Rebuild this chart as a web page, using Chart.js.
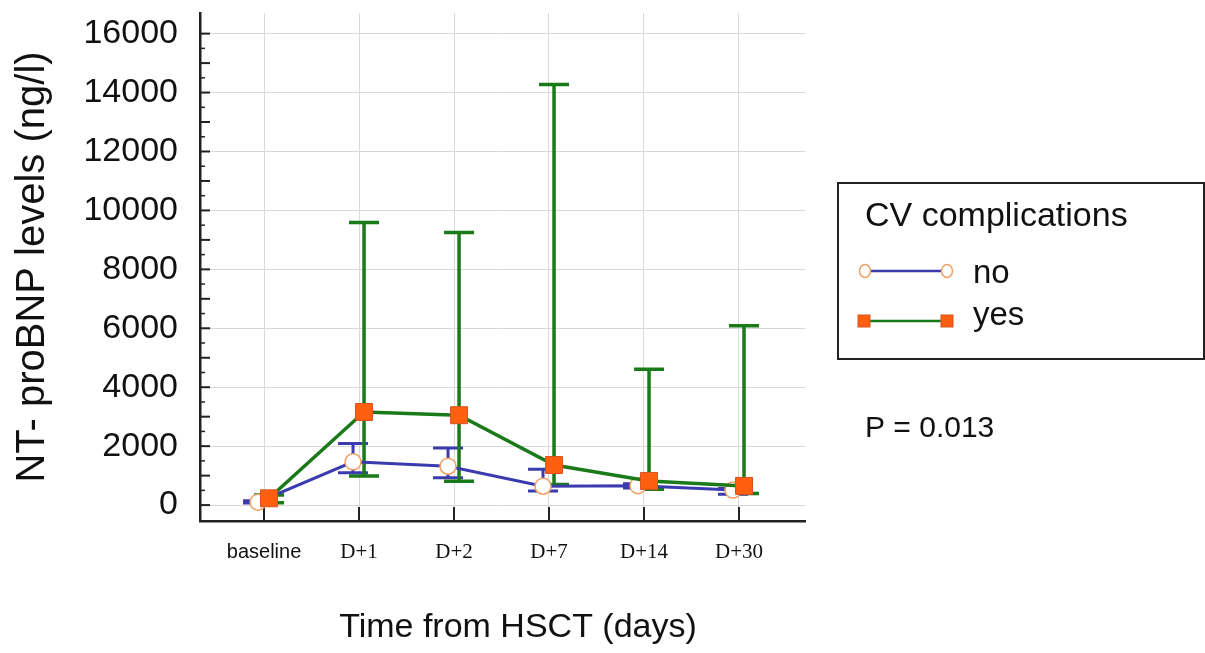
<!DOCTYPE html>
<html><head><meta charset="utf-8">
<script src="https://cdn.jsdelivr.net/npm/chart.js@4.4.1/dist/chart.umd.min.js"></script>
<style>html,body{margin:0;padding:0;background:#fff;}</style>
</head><body>
<canvas id="c" width="1205" height="653"></canvas>
<script>
// ---- data ----
const categories = ['baseline', 'D+1', 'D+2', 'D+7', 'D+14', 'D+30'];
const noMean  = [100, 1470, 1320, 640, 660, 510];
const noLow   = [70, 1100, 930, 480, 580, 370];
const noHigh  = [150, 2090, 1940, 1220, 720, 560];
const yesMean = [230, 3160, 3050, 1360, 820, 650];
const yesLow  = [80, 990, 810, 700, 540, 390];
const yesHigh = [340, 9590, 9250, 14270, 4610, 6090];
const yTickValues = [0, 1000, 2000, 3000, 4000, 5000, 6000, 7000, 8000, 9000, 10000, 11000, 12000, 13000, 14000, 15000, 16000];
const yMinorTicks = [500, 1500, 2500, 3500, 4500, 5500, 6500, 7500, 8500, 9500, 10500, 11500, 12500, 13500, 14500, 15500];
const legendTitle = 'CV complications';
const seriesNames = ['no', 'yes'];
const pValueText = 'P = 0.013';
const yTitle = 'NT- proBNP levels (ng/l)';
const xTitle = 'Time from HSCT (days)';

// ---- styles ----
const NO_OFF = -0.063, YES_OFF = 0.053;
const BLUE = '#3b3bb0', GREEN = '#1a7a1a', ORANGE = '#ff5f0f', ORANGE_EDGE = '#d9531e', CIRCLE_EDGE = '#f2a066';
const SANS = "'Liberation Sans', Arial, sans-serif";
const SERIF = "'Liberation Serif', 'Times New Roman', serif";

function drawErr(chart, low, high, off, color, lw, capW) {
  const {ctx, scales: {x, y}} = chart;
  ctx.save();
  ctx.strokeStyle = color; ctx.lineWidth = lw; ctx.lineCap = 'butt';
  for (let i = 0; i < low.length; i++) {
    const px = x.getPixelForValue(i + off);
    const pl = y.getPixelForValue(low[i]);
    const ph = y.getPixelForValue(high[i]);
    ctx.beginPath();
    ctx.moveTo(px, pl); ctx.lineTo(px, ph);
    ctx.moveTo(px - capW / 2, pl); ctx.lineTo(px + capW / 2, pl);
    ctx.moveTo(px - capW / 2, ph); ctx.lineTo(px + capW / 2, ph);
    ctx.stroke();
  }
  ctx.restore();
}

const decor = {
  id: 'decor',
  beforeDatasetsDraw(chart) {
    const {ctx, chartArea, scales: {x, y}} = chart;
    ctx.save();
    ctx.strokeStyle = '#222';
    yTickValues.forEach(v => {
      const py = y.getPixelForValue(v);
      ctx.lineWidth = 2; ctx.beginPath(); ctx.moveTo(chartArea.left, py); ctx.lineTo(chartArea.left + 10, py); ctx.stroke();
    });
    yMinorTicks.forEach(v => {
      const py = y.getPixelForValue(v);
      ctx.lineWidth = 1.5; ctx.beginPath(); ctx.moveTo(chartArea.left, py); ctx.lineTo(chartArea.left + 5, py); ctx.stroke();
    });
    categories.forEach((c, i) => {
      const px = x.getPixelForValue(i);
      ctx.lineWidth = 2; ctx.beginPath(); ctx.moveTo(px, chartArea.bottom); ctx.lineTo(px, chartArea.bottom - 14); ctx.stroke();
    });
    ctx.restore();
    drawErr(chart, noLow, noHigh, NO_OFF, BLUE, 3, 30);
    drawErr(chart, yesLow, yesHigh, YES_OFF, GREEN, 3.5, 30);
  },
  afterDraw(chart) {
    const {ctx} = chart;
    ctx.save();
    ctx.strokeStyle = '#222'; ctx.lineWidth = 2;
    ctx.strokeRect(838, 183, 366, 176);
    ctx.fillStyle = '#111'; ctx.textBaseline = 'alphabetic'; ctx.textAlign = 'left';
    ctx.font = '34px ' + SANS;
    ctx.fillText(legendTitle, 865, 226);
    ctx.strokeStyle = BLUE; ctx.lineWidth = 2.5;
    ctx.beginPath(); ctx.moveTo(865, 271); ctx.lineTo(947, 271); ctx.stroke();
    [865, 947].forEach(cx => {
      ctx.beginPath(); ctx.ellipse(cx, 271, 5.5, 6.5, 0, 0, Math.PI * 2);
      ctx.fillStyle = '#fff'; ctx.fill(); ctx.strokeStyle = CIRCLE_EDGE; ctx.lineWidth = 1.5; ctx.stroke();
    });
    ctx.strokeStyle = GREEN; ctx.lineWidth = 2.5;
    ctx.beginPath(); ctx.moveTo(864, 321); ctx.lineTo(947, 321); ctx.stroke();
    [864, 947].forEach(cx => {
      ctx.fillStyle = ORANGE; ctx.fillRect(cx - 6, 315, 12, 12);
      ctx.strokeStyle = ORANGE_EDGE; ctx.lineWidth = 1; ctx.strokeRect(cx - 6, 315, 12, 12);
    });
    ctx.fillStyle = '#111';
    ctx.font = '33px ' + SANS;
    ctx.fillText(seriesNames[0], 973, 283);
    ctx.fillText(seriesNames[1], 973, 325);
    ctx.font = '30px ' + SANS;
    ctx.fillText(pValueText, 865, 437);
    ctx.font = '34px ' + SANS; ctx.textAlign = 'center';
    ctx.fillText(xTitle, 518, 637);
    ctx.restore();
  }
};

new Chart(document.getElementById('c'), {
  type: 'line',
  data: {
    datasets: [
      {
        label: seriesNames[0],
        data: noMean.map((v, i) => ({x: i + NO_OFF, y: v})),
        borderColor: BLUE, borderWidth: 3,
        pointStyle: 'circle', pointRadius: 8, pointBackgroundColor: '#fff',
        pointBorderColor: CIRCLE_EDGE, pointBorderWidth: 1.5, order: 2, tension: 0
      },
      {
        label: seriesNames[1],
        data: yesMean.map((v, i) => ({x: i + YES_OFF, y: v})),
        borderColor: GREEN, borderWidth: 3.5,
        pointStyle: 'rect', pointRadius: 12, pointBackgroundColor: ORANGE,
        pointBorderColor: ORANGE_EDGE, pointBorderWidth: 1, order: 1, tension: 0
      }
    ]
  },
  options: {
    responsive: false, animation: false,
    layout: {padding: {top: 12, right: 400, left: 0, bottom: 0}},
    plugins: {legend: {display: false}, tooltip: {enabled: false}},
    scales: {
      x: {
        type: 'linear', min: -0.674, max: 5.695,
        afterBuildTicks: s => { s.ticks = categories.map((c, i) => ({value: i})); },
        afterFit: s => { s.height = 132; s.paddingLeft = 0; s.paddingRight = 0; },
        grid: {color: '#d9d9d9', lineWidth: 1, drawTicks: false},
        border: {color: '#222', width: 2.5},
        ticks: {
          padding: 19, color: '#111', maxRotation: 0, autoSkip: false,
          callback: v => categories[v],
          font: ctx => ctx.index === 0 ? {family: SANS, size: 20} : {family: SERIF, size: 21}
        }
      },
      y: {
        min: -540, max: 16700,
        afterBuildTicks: s => { s.ticks = yTickValues.map(v => ({value: v})); },
        afterFit: s => { s.width = 200; s.paddingTop = 0; s.paddingBottom = 0; },
        grid: {color: '#d9d9d9', lineWidth: 1, drawTicks: false},
        border: {color: '#222', width: 2.5},
        ticks: {
          padding: 22, color: '#111', font: {family: SANS, size: 34},
          callback: v => (v % 2000 === 0 ? String(v) : '')
        },
        title: {display: true, text: yTitle, color: '#111', font: {family: SANS, size: 40}, padding: {top: 9, bottom: 0}}
      }
    }
  },
  plugins: [decor]
});
</script>
</body></html>
